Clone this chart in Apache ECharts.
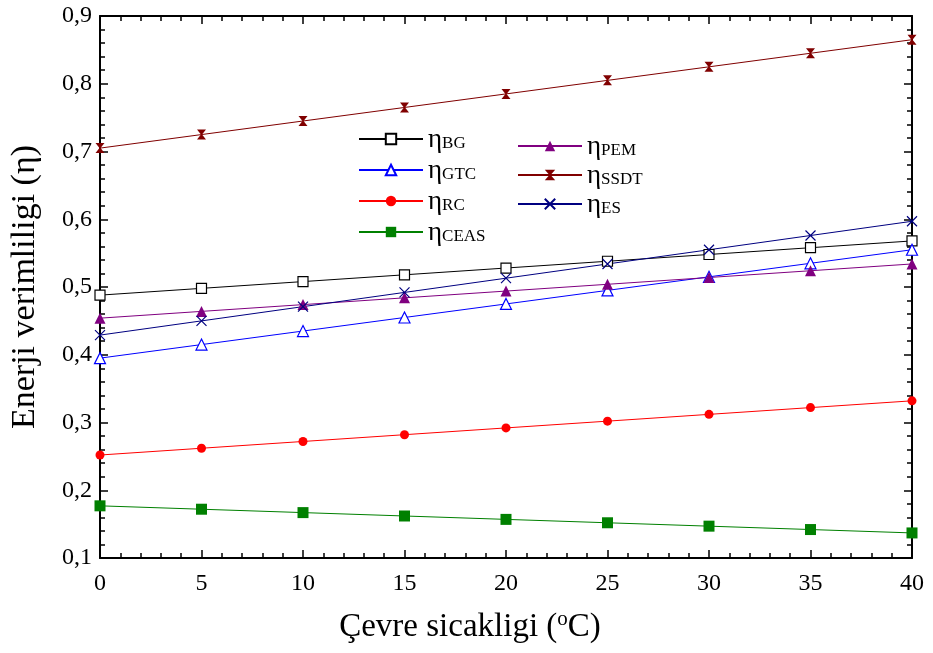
<!DOCTYPE html>
<html>
<head>
<meta charset="utf-8">
<script src="https://cdn.jsdelivr.net/npm/echarts@6/dist/echarts.min.js"></script>
<style>
  html, body { margin: 0; padding: 0; background: #fff; }
  #chart { width: 933px; height: 653px; }
</style>
</head>
<body>
<div id="chart"></div>
<script>
// Ambient temperature (°C)
const temperatures = [0, 5, 10, 15, 20, 25, 30, 35, 40];

// Energy efficiency of each subsystem
const etaBG   = [0.488, 0.498, 0.508, 0.518, 0.528, 0.538, 0.548, 0.558, 0.568];
const etaGTC  = [0.395, 0.415, 0.435, 0.455, 0.475, 0.495, 0.515, 0.535, 0.555];
const etaRC   = [0.252, 0.262, 0.272, 0.282, 0.292, 0.302, 0.312, 0.322, 0.332];
const etaCEAS = [0.177, 0.172, 0.167, 0.162, 0.157, 0.152, 0.147, 0.142, 0.137];
const etaPEM  = [0.454, 0.464, 0.474, 0.484, 0.494, 0.504, 0.514, 0.524, 0.534];
const etaSSDT = [0.705, 0.725, 0.745, 0.765, 0.785, 0.805, 0.825, 0.845, 0.865];
const etaES   = [0.429, 0.450, 0.471, 0.492, 0.513, 0.534, 0.555, 0.576, 0.597];

const FONT = "'Liberation Serif', 'Times New Roman', serif";

const chart = echarts.init(document.getElementById('chart'), null, { renderer: 'canvas' });

function pairs(vals) {
  return temperatures.map((t, i) => [t, vals[i]]);
}

function makeSeries(name, vals, color, symbol, size, itemStyle) {
  return {
    name: name,
    type: 'line',
    data: pairs(vals),
    xAxisIndex: 0,
    yAxisIndex: 0,
    symbol: symbol,
    symbolSize: size,
    showSymbol: true,
    animation: false,
    lineStyle: { color: color, width: 1 },
    itemStyle: Object.assign({ color: color }, itemStyle || {}),
    emphasis: { disabled: true }
  };
}

const axisCommon = {
  axisLine: { show: true, onZero: false, lineStyle: { color: '#000', width: 2 } },
  axisTick: { show: true, inside: true, length: 8, lineStyle: { color: '#000', width: 1.5 } },
  minorTick: { show: true, splitNumber: 5, length: 5, lineStyle: { color: '#000', width: 1.5 } },
  splitLine: { show: false },
  minorSplitLine: { show: false }
};

const legendRich = {
  e: { fontFamily: FONT, fontSize: 27, color: '#000', verticalAlign: 'bottom', lineHeight: 28 },
  s: { fontFamily: FONT, fontSize: 17, color: '#000', verticalAlign: 'bottom', lineHeight: 28, padding: [0, 0, 1, 0] }
};

const subs = {
  'ηBG': 'BG', 'ηGTC': 'GTC', 'ηRC': 'RC', 'ηCEAS': 'CEAS',
  'ηPEM': 'PEM', 'ηSSDT': 'SSDT', 'ηES': 'ES'
};

function legendBox(left, top, gap, names) {
  return {
    orient: 'vertical',
    left: left,
    top: top,
    itemWidth: 64,
    itemHeight: 13,
    itemGap: gap,
    padding: 0,
    selectedMode: false,
    data: names,
    formatter: function (n) { return '{e|η}{s|' + subs[n] + '}'; },
    textStyle: { rich: legendRich, padding: [0, 0, 0, 0] }
  };
}

const option = {
  backgroundColor: '#fff',
  animation: false,
  grid: { left: 99, right: 21, top: 16, bottom: 95, containLabel: false },
  legend: [
    legendBox(358, 126, 4, ['ηBG', 'ηGTC', 'ηRC', 'ηCEAS']),
    legendBox(517, 133, 2, ['ηPEM', 'ηSSDT', 'ηES'])
  ],
  xAxis: [
    Object.assign({}, axisCommon, {
      type: 'value', position: 'bottom', min: 0, max: 40, interval: 5,
      axisLabel: { color: '#000', fontFamily: FONT, fontSize: 24, margin: 14 },
      name: '{a|Çevre sicakligi (}{u|o}{a|C)}',
      nameLocation: 'middle',
      nameGap: 50,
      nameTextStyle: {
        padding: [0, 72, 0, 0],
        rich: {
          a: { fontFamily: FONT, fontSize: 33, color: '#000', verticalAlign: 'bottom', lineHeight: 36 },
          u: { fontFamily: FONT, fontSize: 21, color: '#000', verticalAlign: 'top', lineHeight: 36, padding: [1, 0, 0, 0] }
        }
      }
    }),
    Object.assign({}, axisCommon, {
      type: 'value', position: 'top', min: 0, max: 40, interval: 5,
      axisLabel: { show: false }
    })
  ],
  yAxis: [
    Object.assign({}, axisCommon, {
      type: 'value', position: 'left', min: 0.1, max: 0.9, interval: 0.1,
      axisLabel: {
        color: '#000', fontFamily: FONT, fontSize: 24, margin: 8,
        formatter: function (v) { return v.toFixed(1).replace('.', ','); }
      },
      name: 'Enerji verimliligi (η)',
      nameLocation: 'middle',
      nameGap: 58,
      nameTextStyle: { fontFamily: FONT, fontSize: 34, color: '#000' }
    }),
    Object.assign({}, axisCommon, {
      type: 'value', position: 'right', min: 0.1, max: 0.9, interval: 0.1,
      axisLabel: { show: false }
    })
  ],
  series: [
    makeSeries('ηBG', etaBG, '#000000', 'rect', 10, { color: '#ffffff', borderColor: '#000000', borderWidth: 1.2 }),
    makeSeries('ηGTC', etaGTC, '#0000ff', 'triangle', 11, { color: '#ffffff', borderColor: '#0000ff', borderWidth: 1.2 }),
    makeSeries('ηRC', etaRC, '#ff0000', 'circle', 9),
    makeSeries('ηCEAS', etaCEAS, '#008000', 'rect', 11),
    makeSeries('ηPEM', etaPEM, '#800080', 'triangle', 11),
    makeSeries('ηSSDT', etaSSDT, '#800000', 'path://M0,0L10,0L5.6,5L10,10L0,10L4.4,5Z', [9, 10]),
    makeSeries('ηES', etaES, '#000080', 'path://M0,0L10,10M10,0L0,10', 10, { color: '#000080', borderColor: '#000080', borderWidth: 1.2 })
  ]
};

chart.setOption(option);
</script>
</body>
</html>
